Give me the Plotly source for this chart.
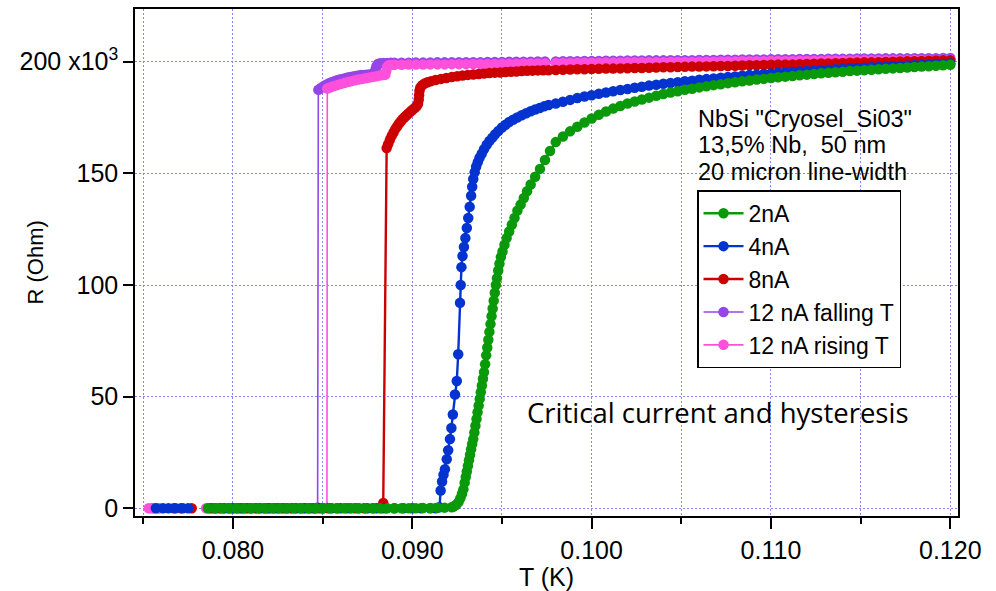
import plotly.graph_objects as go

# ---------------- data ----------------
# shared temperature grids (K)
T_TOP = [0.0890, 0.0894, 0.0898, 0.0902, 0.0906, 0.0910, 0.0914, 0.0918, 0.0922, 0.0926, 0.0930,
         0.0934, 0.0938, 0.0942, 0.0946, 0.0950, 0.0954, 0.0958, 0.0962, 0.0966, 0.0970, 0.0974]
T_HI = [0.0980, 0.0984, 0.0988, 0.0992, 0.0996,
        0.1000, 0.1004, 0.1008, 0.1012, 0.1016,
        0.1020, 0.1024, 0.1028, 0.1032, 0.1036,
        0.1040, 0.1044, 0.1048, 0.1052, 0.1056,
        0.1060, 0.1064, 0.1068, 0.1072, 0.1076,
        0.1080, 0.1084, 0.1088, 0.1092, 0.1096,
        0.1100, 0.1104, 0.1108, 0.1112, 0.1116,
        0.1120, 0.1124, 0.1128, 0.1132, 0.1136,
        0.1140, 0.1144, 0.1148, 0.1152, 0.1156,
        0.1160, 0.1164, 0.1168, 0.1172, 0.1176,
        0.1180, 0.1184, 0.1188, 0.1192, 0.1196,
        0.1200]

# ---- 2 nA ----
T_2NA_LOW = [0.0786, 0.0790, 0.0794, 0.0798, 0.0802, 0.0806, 0.0810, 0.0814, 0.0818, 0.0822,
             0.0826, 0.0830, 0.0834, 0.0838, 0.0842, 0.0846, 0.0850, 0.0854, 0.0858, 0.0862,
             0.0866, 0.0870, 0.0874, 0.0878, 0.0882, 0.0886, 0.0890, 0.0894, 0.0898, 0.0902,
             0.0906, 0.0910, 0.0914, 0.0918, 0.0922]
R_2NA_LOW = [0.0, 0.0, 0.0, 0.0, 0.0, 0.0, 0.0, 0.0, 0.0, 0.0,
             0.0, 0.0, 0.0, 0.0, 0.0, 0.0, 0.0, 0.0, 0.0, 0.0,
             0.0, 0.0, 0.0, 0.0, 0.0, 0.0, 0.0, 0.0, 0.0, 0.0,
             0.1, 0.1, 0.2, 0.3, 0.5]
T_2NA_MID = [0.09230, 0.09245, 0.09258, 0.09268, 0.09277, 0.09285, 0.09292, 0.09298, 0.09304, 0.09310,
             0.09316, 0.09322, 0.09328, 0.09334, 0.09340, 0.09346, 0.09352, 0.09358, 0.09364, 0.09370,
             0.09376, 0.09382, 0.09388, 0.09394, 0.09400, 0.09406, 0.09412, 0.09418, 0.09424, 0.09430,
             0.09436, 0.09442, 0.09448, 0.09454, 0.09460, 0.09466, 0.09472, 0.09479, 0.09486, 0.09494,
             0.09503, 0.09514, 0.09526, 0.09540, 0.09555, 0.09570, 0.09586, 0.09604, 0.09622, 0.09640,
             0.09660, 0.09685, 0.09712, 0.09740, 0.09768]
R_2NA_MID = [0.8, 1.6, 2.8, 4.5, 6.5, 8.5, 11.5, 14.0, 16.5, 19.0,
             21.5, 24.0, 26.5, 28.8, 31.0, 34.0, 37.0, 40.0, 43.0, 46.0,
             49.0, 52.0, 55.0, 58.0, 61.0, 64.5, 68.5, 72.0, 75.5, 79.0,
             82.5, 86.0, 89.5, 93.0, 96.5, 100.0, 103.0, 106.5, 109.5, 112.5,
             115.0, 118.0, 121.0, 124.0, 127.0, 130.0, 133.3, 136.0, 139.0, 142.0,
             145.0, 148.5, 152.0, 156.0, 160.0]
R_2NA_HI = [164.0, 166.5, 168.8, 170.9, 172.8,
            174.6, 176.2, 177.7, 179.0, 180.2,
            181.3, 182.2, 183.1, 183.9, 184.7,
            185.5, 186.2, 186.8, 187.4, 187.9,
            188.5, 189.0, 189.5, 189.9, 190.4,
            190.8, 191.2, 191.6, 192.0, 192.3,
            192.7, 193.0, 193.3, 193.6, 193.9,
            194.2, 194.5, 194.8, 195.0, 195.3,
            195.5, 195.8, 196.0, 196.2, 196.4,
            196.6, 196.8, 197.0, 197.2, 197.4,
            197.6, 197.8, 198.0, 198.2, 198.4,
            198.6]

# ---- 4 nA ----
T_4NA_LOW = [0.0757, 0.0761, 0.0764, 0.0768, 0.0772, 0.0775, None,
             0.0790, 0.0795, 0.0800, 0.0805, 0.0810, 0.0815, 0.0820, 0.0825, 0.0830, 0.0835,
             0.0840, 0.0845, 0.0850, 0.0855, 0.0860, 0.0865, 0.0870, 0.0875, 0.0880, 0.0885,
             0.0890, 0.0895, 0.0900, 0.0905, 0.0910, 0.0913, 0.09152]
R_4NA_LOW = [0.0, 0.0, 0.0, 0.0, 0.0, 0.0, None,
             0.0, 0.0, 0.0, 0.0, 0.0, 0.0, 0.0, 0.0, 0.0, 0.0,
             0.0, 0.0, 0.0, 0.0, 0.0, 0.0, 0.0, 0.0, 0.0, 0.0,
             0.0, 0.0, 0.0, 0.0, 0.0, 0.0, 0.5]
T_4NA_MID = [0.09158, 0.09166, 0.09174, 0.09182, 0.09192, 0.09200, 0.09210, 0.09218, 0.09226, 0.09238,
             0.09248, 0.09256, 0.09266, 0.09270, 0.09274, 0.09280, 0.09288, 0.09296, 0.09304, 0.09312,
             0.09320, 0.09328, 0.09334, 0.09340, 0.09348, 0.09356, 0.09365, 0.09375, 0.09387, 0.09400,
             0.09415, 0.09430, 0.09446, 0.09462, 0.09480, 0.09500, 0.09520, 0.09540, 0.09562, 0.09585,
             0.09610, 0.09635, 0.09660, 0.09685, 0.09710, 0.09735, 0.09760]
R_4NA_MID = [8.0, 12.0, 15.0, 17.5, 22.0, 26.0, 31.0, 36.0, 42.0, 51.0,
             57.0, 69.0, 92.0, 100.0, 108.0, 113.0, 117.0, 121.0, 125.5, 130.0,
             135.0, 140.0, 144.0, 147.5, 150.5, 153.0, 155.0, 157.0, 158.8, 160.8,
             162.8, 164.5, 166.0, 167.5, 169.0, 170.5, 171.8, 173.0, 174.0, 175.0,
             176.0, 176.9, 177.8, 178.6, 179.3, 180.0, 180.6]
R_4NA_HI = [181.3, 182.1, 182.9, 183.7, 184.4,
            185.0, 185.6, 186.2, 186.8, 187.3,
            187.8, 188.3, 188.8, 189.3, 189.7,
            190.1, 190.5, 190.8, 191.2, 191.5,
            191.9, 192.2, 192.5, 192.8, 193.1,
            193.4, 193.7, 194.0, 194.2, 194.5,
            194.7, 195.0, 195.2, 195.4, 195.6,
            195.8, 196.0, 196.2, 196.4, 196.6,
            196.8, 197.0, 197.1, 197.3, 197.5,
            197.6, 197.8, 198.0, 198.1, 198.3,
            198.4, 198.6, 198.7, 198.9, 199.0,
            199.2]

# ---- 8 nA ----
T_8NA_LOW = [0.0767, 0.0771, 0.0777, None,
             0.0788, 0.0793, 0.0798, 0.0803, 0.0808, 0.0813, 0.0818, 0.0823, 0.0828, 0.0833,
             0.0838, 0.0843, 0.0848, 0.0853, 0.0858, 0.0863, 0.0868, 0.0873, 0.0878, 0.0883,
             0.08838]
R_8NA_LOW = [0.0, 0.0, 0.0, None,
             0.0, 0.0, 0.0, 0.0, 0.0, 0.0, 0.0, 0.0, 0.0, 0.0,
             0.0, 0.0, 0.0, 0.0, 0.0, 0.0, 0.0, 0.0, 0.0, 0.0,
             2.4]
T_8NA_MID = [0.08857, 0.08865, 0.08875, 0.08885, 0.08895, 0.08905, 0.08915, 0.08925, 0.08935, 0.08945,
             0.08955, 0.08965, 0.08975, 0.08985, 0.08995, 0.09005, 0.09015, 0.09025, 0.09032, 0.09036,
             0.09038, 0.09040, 0.09045, 0.09055, 0.09068, 0.09085, 0.09105, 0.09130, 0.09160, 0.09190,
             0.09220, 0.09250, 0.09280, 0.09310, 0.09340, 0.09370, 0.09400, 0.09430, 0.09460, 0.09490,
             0.09520, 0.09550, 0.09580, 0.09610, 0.09640, 0.09670, 0.09700, 0.09730, 0.09760]
R_8NA_MID = [161.3, 163.0, 165.0, 166.8, 168.3, 169.8, 171.0, 172.2, 173.2, 174.2,
             175.0, 175.8, 176.6, 177.3, 178.0, 178.7, 179.4, 180.2, 181.2, 183.0,
             185.0, 187.0, 188.5, 189.5, 190.2, 190.8, 191.3, 191.8, 192.3, 192.7,
             193.1, 193.5, 193.8, 194.1, 194.3, 194.5, 194.7, 194.9, 195.1, 195.2,
             195.4, 195.5, 195.6, 195.8, 195.9, 196.0, 196.1, 196.2, 196.2]
R_8NA_HI = [196.3, 196.4, 196.5, 196.6, 196.6,
            196.7, 196.8, 196.9, 196.9, 197.0,
            197.1, 197.2, 197.2, 197.3, 197.4,
            197.5, 197.5, 197.6, 197.7, 197.8,
            197.8, 197.9, 198.0, 198.1, 198.1,
            198.2, 198.3, 198.4, 198.4, 198.5,
            198.6, 198.7, 198.7, 198.8, 198.9,
            199.0, 199.1, 199.2, 199.2, 199.3,
            199.4, 199.5, 199.6, 199.7, 199.7,
            199.8, 199.9, 200.0, 200.1, 200.2,
            200.2, 200.3, 200.4, 200.5, 200.6,
            200.7]

# ---- 12 nA, falling T ----
T_12F_LOW = [0.0755, 0.0758, None,
             0.0787, 0.0792, 0.0797, 0.0802, 0.0807, 0.0812, 0.0817, 0.0822, 0.0827, 0.0832,
             0.0837, 0.0842, 0.0846, 0.08472]
R_12F_LOW = [0.0, 0.0, None,
             0.0, 0.0, 0.0, 0.0, 0.0, 0.0, 0.0, 0.0, 0.0, 0.0,
             0.0, 0.0, 0.0, 0.4]
T_12F_MID = [0.08476, 0.08490, 0.08505, 0.08520, 0.08535, 0.08550, 0.08565, 0.08580, 0.08595, 0.08610,
             0.08625, 0.08640, 0.08655, 0.08670, 0.08685, 0.08700, 0.08715, 0.08730, 0.08745, 0.08760,
             0.08775, 0.08788, 0.08795, 0.08800, 0.08808, 0.08820, 0.08840, 0.08860, 0.08880]
R_12F_MID = [187.4, 188.2, 189.0, 189.7, 190.3, 190.8, 191.3, 191.7, 192.0, 192.3,
             192.6, 192.9, 193.2, 193.4, 193.6, 193.8, 194.0, 194.1, 194.2, 194.3,
             194.4, 195.0, 196.5, 198.0, 199.0, 199.3, 199.4, 199.4, 199.5]
R_12F_TOP = [199.5, 199.5, 199.5, 199.6, 199.6, 199.6, 199.7, 199.7, 199.7, 199.8, 199.8,
             199.8, 199.8, 199.9, 199.9, 199.9, 200.0, 200.0, 200.0, 200.0, 200.1, 200.1]
R_12F_HI = [200.1, 200.2, 200.2, 200.2, 200.3,
            200.3, 200.3, 200.4, 200.4, 200.4,
            200.5, 200.5, 200.5, 200.6, 200.6,
            200.6, 200.7, 200.7, 200.7, 200.7,
            200.8, 200.8, 200.8, 200.9, 200.9,
            200.9, 201.0, 201.0, 201.0, 201.0,
            201.1, 201.1, 201.1, 201.1, 201.2,
            201.2, 201.2, 201.2, 201.3, 201.3,
            201.3, 201.3, 201.4, 201.4, 201.4,
            201.4, 201.5, 201.5, 201.5, 201.5,
            201.6, 201.6, 201.6, 201.6, 201.7,
            201.7]

# ---- 12 nA, rising T ----
T_12R_LOW = [0.0753, 0.0756, 0.0759, None,
             0.0785, 0.0790, 0.0795, 0.0800, 0.0805, 0.0810, 0.0815, 0.0820, 0.0825, 0.0830,
             0.0835, 0.0840, 0.0845, 0.0850, 0.08524]
R_12R_LOW = [0.0, 0.0, 0.0, None,
             0.0, 0.0, 0.0, 0.0, 0.0, 0.0, 0.0, 0.0, 0.0, 0.0,
             0.0, 0.0, 0.0, 0.0, 0.3]
T_12R_MID = [0.08526, 0.08540, 0.08560, 0.08580, 0.08600, 0.08620, 0.08640, 0.08660, 0.08680, 0.08700,
             0.08720, 0.08740, 0.08760, 0.08780, 0.08800, 0.08820, 0.08840, 0.08850, 0.08855, 0.08860,
             0.08870, 0.08880]
R_12R_MID = [188.0, 188.4, 189.0, 189.5, 190.0, 190.5, 190.9, 191.3, 191.7, 192.0,
             192.3, 192.6, 192.9, 193.2, 193.5, 193.8, 194.0, 194.3, 196.0, 197.8,
             198.4, 198.5]
R_12R_TOP = [198.6, 198.6, 198.7, 198.7, 198.7, 198.8, 198.8, 198.8, 198.9, 198.9, 198.9,
             199.0, 199.0, 199.0, 199.0, 199.1, 199.1, 199.1, 199.2, 199.2, 199.2, 199.2]
R_12R_HI = [199.3, 199.4, 199.4, 199.4, 199.5,
            199.5, 199.5, 199.6, 199.6, 199.6,
            199.7, 199.7, 199.7, 199.8, 199.8,
            199.8, 199.9, 199.9, 199.9, 199.9,
            200.0, 200.0, 200.0, 200.1, 200.1,
            200.1, 200.2, 200.2, 200.2, 200.2,
            200.3, 200.3, 200.3, 200.3, 200.4,
            200.4, 200.4, 200.4, 200.5, 200.5,
            200.5, 200.5, 200.6, 200.6, 200.6,
            200.6, 200.7, 200.7, 200.7, 200.7,
            200.8, 200.8, 200.8, 200.8, 200.9,
            200.9]

SERIES_NAMES = ["2nA", "4nA", "8nA", "12 nA falling T", "12 nA rising T"]
Y_TICKS = [0, 50, 100, 150, 200]
Y_TICKTEXT = ["0", "50", "100", "150", "200 x10<sup>3</sup>"]
INFO_LINES = ['NbSi "Cryosel_Si03"', '13,5% Nb, \u00a050 nm', '20 micron line-width']
NOTE = "Critical current and hysteresis"

# ---------------- assemble ----------------
for a, b in [(T_2NA_LOW, R_2NA_LOW), (T_2NA_MID, R_2NA_MID), (T_HI, R_2NA_HI),
             (T_4NA_LOW, R_4NA_LOW), (T_4NA_MID, R_4NA_MID), (T_HI, R_4NA_HI),
             (T_8NA_LOW, R_8NA_LOW), (T_8NA_MID, R_8NA_MID), (T_HI, R_8NA_HI),
             (T_12F_LOW, R_12F_LOW), (T_12F_MID, R_12F_MID), (T_TOP, R_12F_TOP), (T_HI, R_12F_HI),
             (T_12R_LOW, R_12R_LOW), (T_12R_MID, R_12R_MID), (T_TOP, R_12R_TOP), (T_HI, R_12R_HI)]:
    assert len(a) == len(b), (len(a), len(b))

T_2NA = T_2NA_LOW + T_2NA_MID + T_HI
R_2NA = R_2NA_LOW + R_2NA_MID + R_2NA_HI
T_4NA = T_4NA_LOW + T_4NA_MID + T_HI
R_4NA = R_4NA_LOW + R_4NA_MID + R_4NA_HI
T_8NA = T_8NA_LOW + T_8NA_MID + T_HI
R_8NA = R_8NA_LOW + R_8NA_MID + R_8NA_HI
T_12F = T_12F_LOW + T_12F_MID + T_TOP + T_HI
R_12F = R_12F_LOW + R_12F_MID + R_12F_TOP + R_12F_HI
T_12R = T_12R_LOW + T_12R_MID + T_TOP + T_HI
R_12R = R_12R_LOW + R_12R_MID + R_12R_TOP + R_12R_HI

GREEN = "#0a990a"
BLUE = "#0433d0"
RED = "#cc0000"
PURPLE = "#9446e8"
PINK = "#ff50dc"
GRID = "#8585ff"
FONT = "Liberation Sans, Arial, Helvetica, sans-serif"

# drawing order: purple, pink, red, blue, green (green on top); legend order via legendrank
traces = [
    (SERIES_NAMES[3], T_12F, R_12F, PURPLE, 1.6, 4),
    (SERIES_NAMES[4], T_12R, R_12R, PINK, 1.6, 5),
    (SERIES_NAMES[2], T_8NA, R_8NA, RED, 2.4, 3),
    (SERIES_NAMES[1], T_4NA, R_4NA, BLUE, 2.4, 2),
    (SERIES_NAMES[0], T_2NA, R_2NA, GREEN, 2.4, 1),
]

fig = go.Figure()
for name, t, r, col, lw, rank in traces:
    fig.add_trace(go.Scatter(
        x=t, y=r, mode="lines+markers", name=name,
        line=dict(color=col, width=lw),
        marker=dict(color=col, size=10.5, line=dict(width=0)),
        legendrank=rank, connectgaps=False,
    ))

L, R_, T_, B_ = 135, 38, 7, 75
PW = 996 - L - R_
PH = 591 - T_ - B_

def px_x(px):
    return (px - L) / PW

def px_y(py):
    return (591 - B_ - py) / PH

annotations = []
for txt, yc in zip(INFO_LINES, [117, 144, 171]):
    annotations.append(dict(text=txt, xref="paper", yref="paper", x=px_x(696), y=px_y(yc),
                            xanchor="left", yanchor="middle", showarrow=False,
                            font=dict(family=FONT, size=23.5, color="black")))
annotations.append(dict(text=NOTE, xref="paper", yref="paper", x=px_x(525), y=px_y(412),
                        xanchor="left", yanchor="middle", showarrow=False,
                        font=dict(family="Open Sans, Noto Sans, sans-serif", size=27.5, color="black")))
annotations.append(dict(text="R (Ohm)", xref="paper", yref="paper", x=px_x(35), y=0.5,
                        xanchor="center", yanchor="middle", textangle=-90, showarrow=False,
                        font=dict(family=FONT, size=22, color="black")))

fig.update_layout(
    width=996, height=591,
    margin=dict(l=L, r=R_, t=T_, b=B_, pad=0),
    paper_bgcolor="white", plot_bgcolor="white",
    font=dict(family=FONT, size=23, color="black"),
    showlegend=True,
    legend=dict(x=px_x(697), y=px_y(189), xanchor="left", yanchor="top",
                bordercolor="black", borderwidth=1.5, bgcolor="white", itemwidth=40,
                font=dict(family=FONT, size=23, color="black"), tracegroupgap=0),
    annotations=annotations,
    xaxis=dict(
        range=[0.074537, 0.12043], tick0=0.08, dtick=0.01, tickformat=".3f",
        ticks="outside", ticklen=11, tickwidth=1.5, tickcolor="black",
        tickfont=dict(family=FONT, size=25, color="black"),
        showline=True, linecolor="black", linewidth=1.5, mirror=True,
        showgrid=True, gridcolor=GRID, griddash="2px,2px", gridwidth=1, zeroline=False,
        minor=dict(tick0=0.075, dtick=0.005, ticks="outside", ticklen=6, tickwidth=1.5,
                   tickcolor="black", showgrid=True, gridcolor=GRID, griddash="2px,2px", gridwidth=1),
        title=dict(text="T (K)", font=dict(family=FONT, size=25, color="black"), standoff=3),
    ),
    yaxis=dict(
        range=[-3.44, 223.6], tickvals=Y_TICKS, ticktext=Y_TICKTEXT,
        ticks="outside", ticklen=10, tickwidth=1.5, tickcolor="black",
        tickfont=dict(family=FONT, size=25, color="black"),
        showline=True, linecolor="black", linewidth=1.5, mirror=True,
        showgrid=True, gridcolor=GRID, griddash="2px,2px", gridwidth=1, zeroline=False,
    ),
)

fig.write_html("out.html")
